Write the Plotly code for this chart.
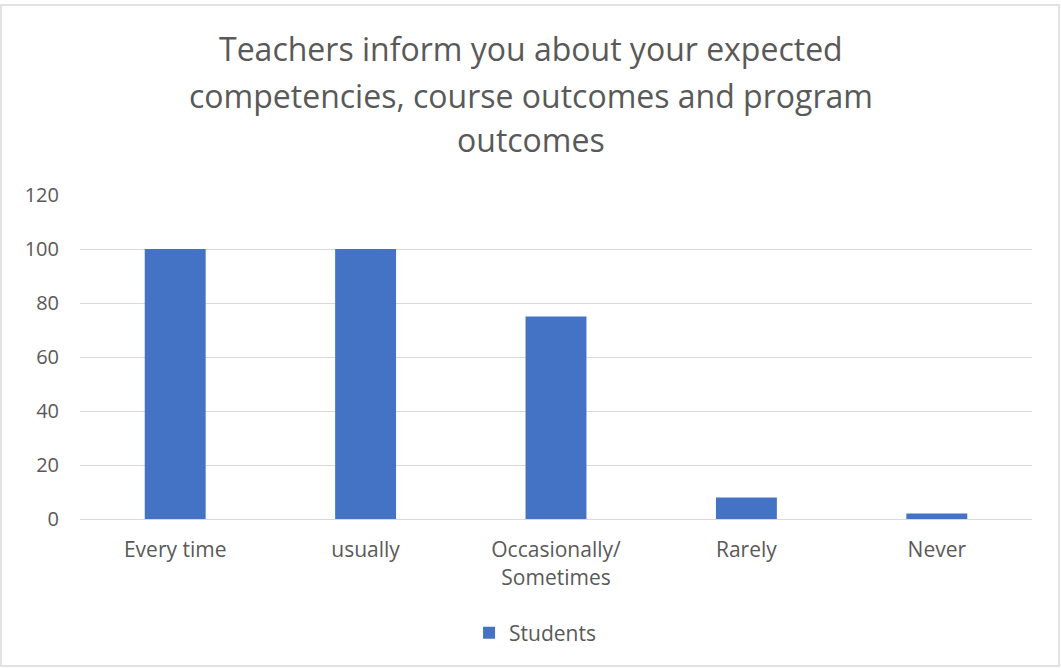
import plotly.graph_objects as go

categories = ['Every time', 'usually', 'Occasionally/<br>Sometimes', 'Rarely', 'Never']
students = [100, 100, 75, 8, 2]
y_ticks = [0, 20, 40, 60, 80, 100, 120]
title_lines = ['Teachers inform you about your expected',
               'competencies, course outcomes and program',
               'outcomes']

txt = '#595959'
font = 'Open Sans, sans-serif'

fig = go.Figure()
fig.add_trace(go.Bar(x=categories, y=students, name='Students',
                     marker=dict(color='#4472C4', line=dict(width=0))))

# title drawn line by line so the line spacing matches
title_y = [48, 96, 140]
for line, ypx in zip(title_lines, title_y):
    fig.add_annotation(text=line, xref='paper', yref='paper',
                       x=(531 - 80) / 952, y=(519 - ypx) / 324,
                       xanchor='center', yanchor='middle', showarrow=False,
                       font=dict(size=32, color=txt))

fig.update_layout(
    width=1061, height=668,
    paper_bgcolor='white', plot_bgcolor='white',
    font=dict(family=font, color=txt, size=21),
    margin=dict(l=80, r=29, t=195, b=149),
    bargap=0.68,
    showlegend=True,
    legend=dict(orientation='h', x=0.478, xanchor='center', y=-0.352, yanchor='middle',
                font=dict(size=21, color=txt)),
    xaxis=dict(showgrid=False, showline=True, linecolor='#D9D9D9', linewidth=1,
               ticks='', ticklabelstandoff=12, tickfont=dict(size=21, color=txt)),
    yaxis=dict(range=[0, 120], tickvals=y_ticks, showgrid=True, gridcolor='#D9D9D9',
               gridwidth=1, zeroline=False, showline=False, ticks='',
               ticklabelstandoff=20, tickfont=dict(size=20, color=txt)),
    shapes=[dict(type='rect', xref='paper', yref='paper',
                 x0=(1 - 80) / 952, x1=(1059 - 80) / 952,
                 y0=(519 - 666) / 324, y1=(519 - 5) / 324,
                 line=dict(color='#D9D9D9', width=1.5), fillcolor='rgba(0,0,0,0)',
                 layer='below')],
)

fig.write_html('out.html', config={'displayModeBar': False},
               post_script="document.body.style.margin='0';")
